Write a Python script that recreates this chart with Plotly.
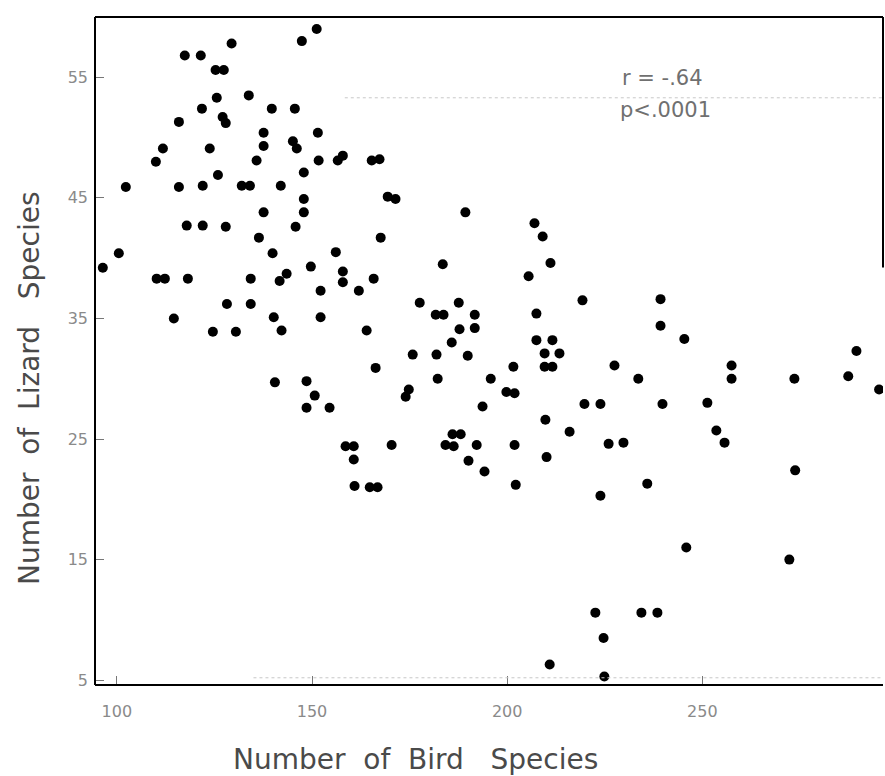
import plotly.graph_objects as go

# Number of bird species vs number of lizard species per site
bird_species = [
    129.4, 147.4, 117.4, 121.5, 125.3, 127.4, 125.6, 133.8, 121.8, 139.7,
    145.6, 115.9, 127.1, 127.9, 137.6, 111.8, 123.8, 137.6, 145.1, 146.1,
    110.0, 135.8, 125.9, 147.9, 102.3, 115.9, 122.0, 132.0, 134.1, 142.0,
    151.2, 151.5, 151.7, 156.6, 157.9, 165.3, 167.3, 147.9, 147.9, 137.6,
    117.9, 122.0, 127.9, 145.8, 136.4, 100.5, 139.9, 96.4, 149.7, 110.2,
    112.3, 118.2, 134.3, 143.5, 141.7, 128.2, 134.3, 114.6, 140.2, 124.6,
    130.5, 142.2, 169.4, 171.4, 189.3, 167.6, 156.1, 183.5, 157.9, 157.9,
    165.8, 152.2, 162.0, 177.6, 187.6, 181.7, 183.7, 191.7, 152.2, 187.8,
    191.7, 164.0, 185.8, 175.8, 181.9, 189.9, 207.0, 209.1, 211.1, 205.5,
    219.3, 239.3, 207.5, 239.3, 245.4, 207.5, 211.6, 209.6, 213.4, 289.5,
    140.5, 148.6, 148.6, 166.3, 150.7, 154.5, 182.2, 174.8, 174.0, 195.8,
    201.6, 199.8, 201.9, 193.7, 186.0, 188.1, 158.6, 160.7, 170.4, 184.2,
    186.3, 192.2, 201.9, 160.7, 190.1, 194.2, 160.9, 164.8, 166.8, 202.2,
    209.6, 211.6, 227.5, 233.6, 219.8, 223.9, 239.8, 251.3, 209.8, 216.0,
    253.6, 226.0, 229.8, 210.1, 235.9, 223.9, 257.5, 257.5, 273.6, 287.4,
    295.3, 255.7, 273.8, 245.9, 272.3, 222.6, 234.4, 238.5, 224.7, 210.9,
    224.9,
]
lizard_species = [
    57.8, 58.0, 56.8, 56.8, 55.6, 55.6, 53.3, 53.5, 52.4, 52.4,
    52.4, 51.3, 51.7, 51.2, 50.4, 49.1, 49.1, 49.3, 49.7, 49.1,
    48.0, 48.1, 46.9, 47.1, 45.9, 45.9, 46.0, 46.0, 46.0, 46.0,
    59.0, 50.4, 48.1, 48.1, 48.5, 48.1, 48.2, 44.9, 43.8, 43.8,
    42.7, 42.7, 42.6, 42.6, 41.7, 40.4, 40.4, 39.2, 39.3, 38.3,
    38.3, 38.3, 38.3, 38.7, 38.1, 36.2, 36.2, 35.0, 35.1, 33.9,
    33.9, 34.0, 45.1, 44.9, 43.8, 41.7, 40.5, 39.5, 38.9, 38.0,
    38.3, 37.3, 37.3, 36.3, 36.3, 35.3, 35.3, 35.3, 35.1, 34.1,
    34.2, 34.0, 33.0, 32.0, 32.0, 31.9, 42.9, 41.8, 39.6, 38.5,
    36.5, 36.6, 35.4, 34.4, 33.3, 33.2, 33.2, 32.1, 32.1, 32.3,
    29.7, 29.8, 27.6, 30.9, 28.6, 27.6, 30.0, 29.1, 28.5, 30.0,
    31.0, 28.9, 28.8, 27.7, 25.4, 25.4, 24.4, 24.4, 24.5, 24.5,
    24.4, 24.5, 24.5, 23.3, 23.2, 22.3, 21.1, 21.0, 21.0, 21.2,
    31.0, 31.0, 31.1, 30.0, 27.9, 27.9, 27.9, 28.0, 26.6, 25.6,
    25.7, 24.6, 24.7, 23.5, 21.3, 20.3, 31.1, 30.0, 30.0, 30.2,
    29.1, 24.7, 22.4, 16.0, 15.0, 10.6, 10.6, 10.6, 8.5, 6.3,
    5.3,
]

x_ticks = [100, 150, 200, 250]
y_ticks = [5, 15, 25, 35, 45, 55]
stats_lines = ["r = -.64", "p<.0001"]
x_title = "Number  of  Bird   Species"
y_title = "Number  of  Lizard   Species"

x_range = [94.4, 296.3]
y_range = [4.6, 60.0]

label_font = dict(family="DejaVu Sans", size=16, color="#8a8a8a")
title_font = dict(family="DejaVu Sans", size=28, color="#4a4a4a")
stats_font = dict(family="DejaVu Sans", size=21, color="#707070")

fig = go.Figure()
fig.add_trace(go.Scatter(
    x=bird_species, y=lizard_species, mode="markers",
    marker=dict(color="black", size=10, line=dict(width=0)),
    hoverinfo="x+y", showlegend=False,
))

fig.update_xaxes(
    range=x_range, tickvals=x_ticks, ticktext=[str(v) for v in x_ticks],
    ticks="inside", ticklen=9, tickwidth=1, tickcolor="#777",
    showline=False, showgrid=False, zeroline=False,
    tickfont=label_font, ticklabelstandoff=15,
)
fig.update_yaxes(
    range=y_range, tickvals=y_ticks, ticktext=[str(v) for v in y_ticks],
    ticks="inside", ticklen=9, tickwidth=1, tickcolor="#777",
    showline=False, showgrid=False, zeroline=False,
    tickfont=label_font, ticklabelstandoff=6,
)

# Frame: left, bottom, top and the visible part of the right edge
frame = [
    dict(x0=0, x1=0, y0=0, y1=1),
    dict(x0=0, x1=1, y0=0, y1=0),
    dict(x0=0, x1=1, y0=1, y1=1),
    dict(x0=1, x1=1, y0=0.625, y1=1),
]
shapes = [dict(type="line", xref="paper", yref="paper", line=dict(color="black", width=2), **f) for f in frame]

# Faint dotted rules across the plot
shapes.append(dict(type="line", xref="x", yref="y", x0=158.4, x1=x_range[1], y0=53.3, y1=53.3,
                   line=dict(color="#c8c8c8", width=1, dash="dot")))
shapes.append(dict(type="line", xref="x", yref="y", x0=135.0, x1=x_range[1], y0=5.2, y1=5.2,
                   line=dict(color="#c8c8c8", width=1, dash="dot")))

W, H = 885, 776
L, R, T, B = 95, 2, 17, 91
pw, ph = W - L - R, H - T - B

annotations = [
    dict(text=stats_lines[0], x=228.8, y=54.9, xref="x", yref="y", xanchor="left", yanchor="middle",
         showarrow=False, font=stats_font),
    dict(text=stats_lines[1], x=228.3, y=52.3, xref="x", yref="y", xanchor="left", yanchor="middle",
         showarrow=False, font=stats_font),
    dict(text=x_title, xref="paper", yref="paper", x=(415 - L) / pw, y=(H - 759 - B) / ph,
         xanchor="center", yanchor="middle", showarrow=False, font=title_font),
    dict(text=y_title, xref="paper", yref="paper", x=(29 - L) / pw, y=(H - 388 - B) / ph,
         xanchor="center", yanchor="middle", showarrow=False, textangle=-90, font=title_font),
]

fig.update_layout(
    width=W, height=H,
    margin=dict(l=L, r=R, t=T, b=B),
    paper_bgcolor="white", plot_bgcolor="white",
    shapes=shapes, annotations=annotations,
)

fig.write_html("out.html")
